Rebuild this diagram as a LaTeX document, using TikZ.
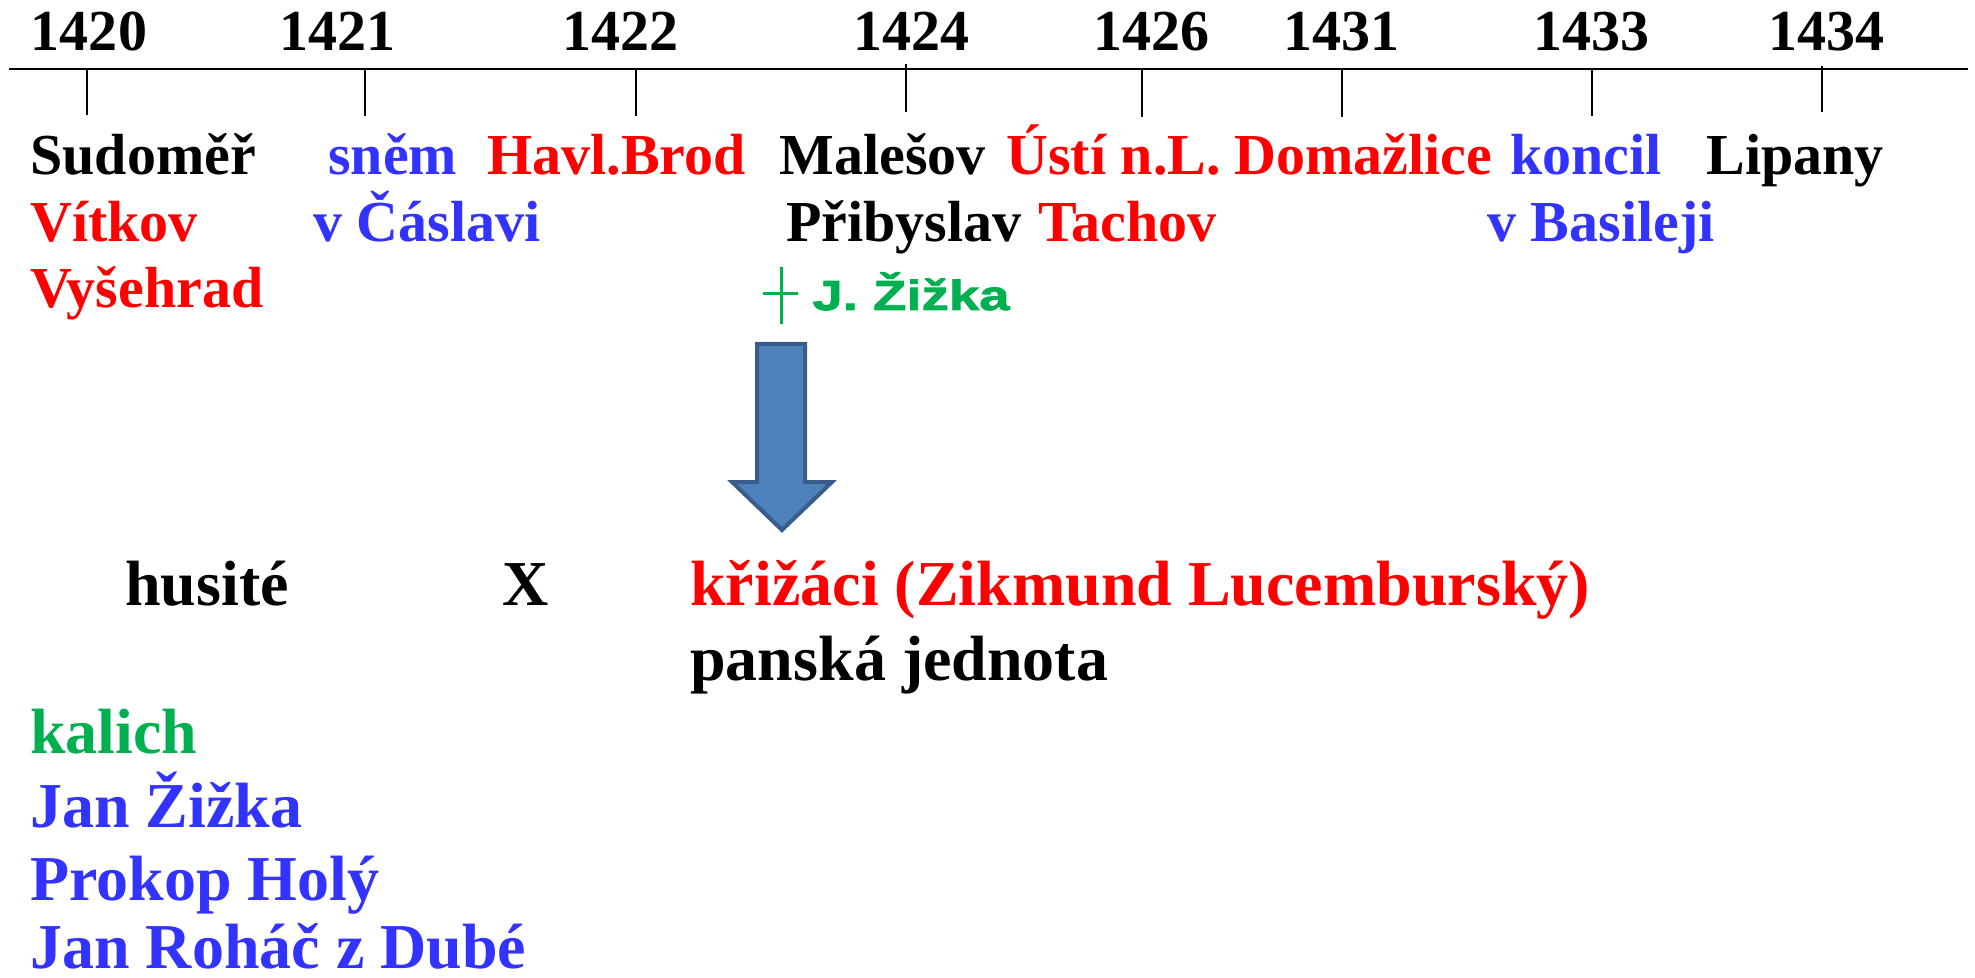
\documentclass[tikz,border=0pt]{standalone}
\usepackage{fontspec}
\usepackage{xcolor}
\usepackage{tikz}
\setmainfont{Liberation Serif}
\newfontfamily\crossfont[FakeStretch=1.3, FakeBold=2]{Liberation Sans Bold}
\usetikzlibrary{positioning}
\definecolor{hsRed}{RGB}{255, 0, 0}
\definecolor{hsBlue}{RGB}{51, 51, 255}
\definecolor{hsGreen}{RGB}{0, 176, 80}
\definecolor{hsFill}{RGB}{79, 129, 189}
\definecolor{hsEdge}{RGB}{56, 93, 138}
\tikzset{
    base/.style={
        font=\bfseries\fontsize{29}{34}\selectfont,
        inner sep=0pt,
        anchor=base west
    },
    year/.style={
        base,
        anchor=base
    },
    event/.style={
        base
    },
    side/.style={
        base,
        font=\bfseries\fontsize{32}{37}\selectfont
    },
    death/.style={
        base,
        font=\crossfont\fontsize{21}{25}\selectfont,
        text=hsGreen
    },
    axis/.style={
        line width=1pt,
        black
    },
    tick/.style={
        line width=0.6pt,
        black
    },
    cross/.style={
        line width=1.5pt,
        hsGreen
    },
    bigarrow/.style={
        line width=2pt,
        draw=hsEdge,
        fill=hsFill,
        line join=miter
    }
}
\begin{document}
\begin{tikzpicture}[x=0.5pt, y=-0.5pt]
  \useasboundingbox (0,0) rectangle (1975,978);

  % Time axis
  \coordinate (axL) at (9,69);
  \coordinate (axR) at (1968,69);
  \draw[axis] (axL) -- (axR);

  % Ticks
  \draw[tick] (87,69) -- (87,115);
  \draw[tick] (365,69) -- (365,116);
  \draw[tick] (636,68) -- (636,116);
  \draw[tick] (906,64) -- (906,112);
  \draw[tick] (1142,69) -- (1142,117);
  \draw[tick] (1342,69) -- (1342,117);
  \draw[tick] (1592,68) -- (1592,116);
  \draw[tick] (1822,66) -- (1822,112);

  % Years
  \node[year] (y1420) at (89,51) {1420};
  \node[year] (y1421) at (337,51) {1421};
  \node[year] (y1422) at (620,51) {1422};
  \node[year] (y1424) at (911,51) {1424};
  \node[year] (y1426) at (1151,51) {1426};
  \node[year] (y1431) at (1341,51) {1431};
  \node[year] (y1433) at (1591,51) {1433};
  \node[year] (y1434) at (1826,51) {1434};

  % Events, first row
  \node[event] (sudomer) at (30,175) {Sudoměř};
  \node[event, text=hsBlue] (snem) at (328,175) {sněm};
  \node[event, text=hsRed] (brod) at (487,175) {Havl.Brod};
  \node[event] (malesov) at (779,175) {Malešov};
  \node[event, text=hsRed] (usti) at (1006,175) {Ústí n.L.};
  \node[event, text=hsRed] (domazlice) at (1234,175) {Domažlice};
  \node[event, text=hsBlue] (koncil) at (1510,175) {koncil};
  \node[event] (lipany) at (1706,175) {Lipany};

  % Events, second row
  \node[event, text=hsRed] (vitkov) at (30,242) {Vítkov};
  \node[event, text=hsBlue] (caslav) at (313,242) {v Čáslavi};
  \node[event] (pribyslav) at (786,242) {Přibyslav};
  \node[event, text=hsRed] (tachov) at (1038,242) {Tachov};
  \node[event, text=hsBlue] (basilej) at (1487,242) {v Basileji};

  % Events, third row
  \node[event, text=hsRed] (vysehrad) at (30,308) {Vyšehrad};
  \draw[cross] (781,267) -- (781,324);
  \draw[cross] (763,294) -- (798,294);
  \node[death] (zizka) at (812,310) {J. Žižka};

  % Arrow
  \draw[bigarrow] (757,344) -- (805,344) -- (805,482) -- (832,482)
    -- (782,530) -- (732,482) -- (757,482) -- cycle;

  % Sides
  \node[side] (husite) at (125,605) {husité};
  \node[side] (versus) at (502,605) {X};
  \node[side, text=hsRed] (krizaci) at (690,605) {křižáci (Zikmund Lucemburský)};
  \node[side] (jednota) at (690,680) {panská jednota};

  % Hussites
  \node[side, text=hsGreen] (kalich) at (30,753) {kalich};
  \node[side, text=hsBlue] (jzizka) at (30,827) {Jan Žižka};
  \node[side, text=hsBlue] (prokop) at (30,900) {Prokop Holý};
  \node[side, text=hsBlue] (rohac) at (30,968) {Jan Roháč z Dubé};
\end{tikzpicture}
\end{document}
